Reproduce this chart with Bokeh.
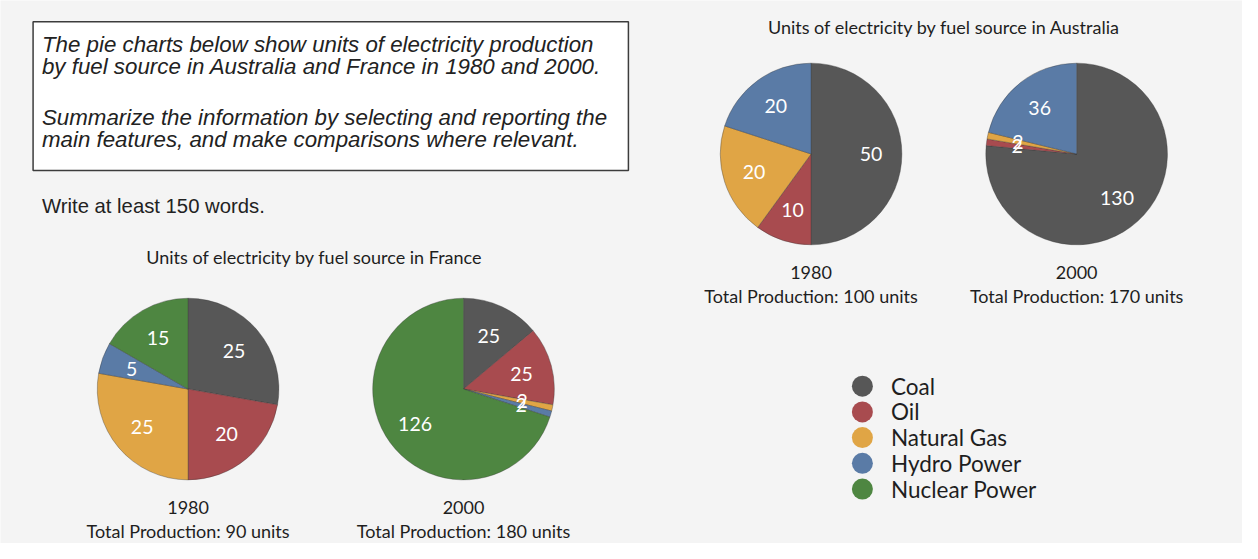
import math
from bokeh.plotting import figure
from bokeh.models import Range1d
from bokeh.core.properties import value
from bokeh.embed import file_html
from bokeh.resources import INLINE

# ---------------- data ----------------
sources = ["Coal", "Oil", "Natural Gas", "Hydro Power", "Nuclear Power"]
colors = ["#575757", "#a84b4f", "#e0a545", "#5a7ba6", "#4e8641"]

australia_1980 = [50, 10, 20, 20, 0]
australia_2000 = [130, 2, 2, 36, 0]
france_1980 = [25, 20, 25, 5, 15]
france_2000 = [25, 25, 2, 2, 126]

years = ["1980", "2000"]
title_aus = "Units of electricity by fuel source in Australia"
title_fra = "Units of electricity by fuel source in France"

prompt_lines = [
    "The pie charts below show units of electricity production",
    "by fuel source in Australia and France in 1980 and 2000.",
    "Summarize the information by selecting and reporting the",
    "main features, and make comparisons where relevant.",
]
instruction = "Write at least 150 words."

# ---------------- figure ----------------
W, H = 1242, 543
IMG_W, IMG_H = 1258, 559
p = figure(width=W, height=H, output_backend="svg", toolbar_location=None,
           x_range=Range1d(0, IMG_W), y_range=Range1d(0, IMG_H),
           min_border=0)
p.axis.visible = False
p.grid.visible = False
p.outline_line_color = None
p.background_fill_color = "#f4f4f4"
p.border_fill_color = "#f4f4f4"

def Y(y):
    return IMG_H - y

SANS = value("Lato")
ARIAL = value("Liberation Sans")

# ---------------- prompt box ----------------
p.quad(left=[33], right=[636], top=[Y(22)], bottom=[Y(175)],
       fill_color="white", line_color="#3c3c3c", line_width=1.5)
line_y = [45, 68, 120, 143]
p.text(x=[42] * 4, y=[Y(v) for v in line_y], text=prompt_lines,
       text_font=ARIAL, text_font_style="italic", text_font_size="22.3px",
       text_color="#222222", text_align="left", text_baseline="middle")
p.text(x=[42], y=[Y(212)], text=[instruction], text_font=ARIAL,
       text_font_size="20.3px", text_color="#222222",
       text_align="left", text_baseline="middle")

# ---------------- pies ----------------
R = 92
def draw_pie(vals, cx, cy, year):
    total = sum(vals)
    cum = 0.0
    starts, ends, cols, lx, ly, lt = [], [], [], [], [], []
    for v, c in zip(vals, colors):
        if v <= 0:
            continue
        a0 = math.pi / 2 - 2 * math.pi * cum / total
        a1 = math.pi / 2 - 2 * math.pi * (cum + v) / total
        starts.append(a0); ends.append(a1); cols.append(c)
        mid = (a0 + a1) / 2
        lx.append(cx + 0.66 * R * math.cos(mid))
        ly.append(Y(cy) + 0.66 * R * math.sin(mid))
        lt.append(str(v))
        cum += v
    p.wedge(x=[cx] * len(starts), y=[Y(cy)] * len(starts), radius=R,
            radius_units="data", start_angle=starts, end_angle=ends,
            direction="clock", fill_color=cols, line_color="#333333",
            line_alpha=0.35, line_width=1)
    p.text(x=lx, y=ly, text=lt, text_font=SANS, text_font_size="19.5px",
           text_color="white", text_align="center", text_baseline="middle")
    p.text(x=[cx, cx], y=[Y(cy + 122), Y(cy + 146)],
           text=[year, "Total Production: %d units" % total],
           text_font=SANS, text_font_size="18px", text_color="#1e1e1e",
           text_align="center", text_baseline="middle")

draw_pie(australia_1980, 821, 158, years[0])
draw_pie(australia_2000, 1090, 158, years[1])
draw_pie(france_1980, 190, 400, years[0])
draw_pie(france_2000, 469, 400, years[1])

p.text(x=[956], y=[Y(27)], text=[title_aus], text_font=SANS,
       text_font_size="18px", text_color="#1e1e1e",
       text_align="center", text_baseline="middle")
p.text(x=[318], y=[Y(264)], text=[title_fra], text_font=SANS,
       text_font_size="18px", text_color="#1e1e1e",
       text_align="center", text_baseline="middle")

# ---------------- legend ----------------
leg_y = [397 + 26.5 * i for i in range(len(sources))]
p.scatter(x=[873] * len(sources), y=[Y(v) for v in leg_y], size=21,
          marker="circle", fill_color=colors, line_color=None)
p.text(x=[902] * len(sources), y=[Y(v) for v in leg_y], text=sources,
       text_font=SANS, text_font_size="22.5px", text_color="#1e1e1e",
       text_align="left", text_baseline="middle")

open("out.html", "w").write(file_html(p, INLINE))
